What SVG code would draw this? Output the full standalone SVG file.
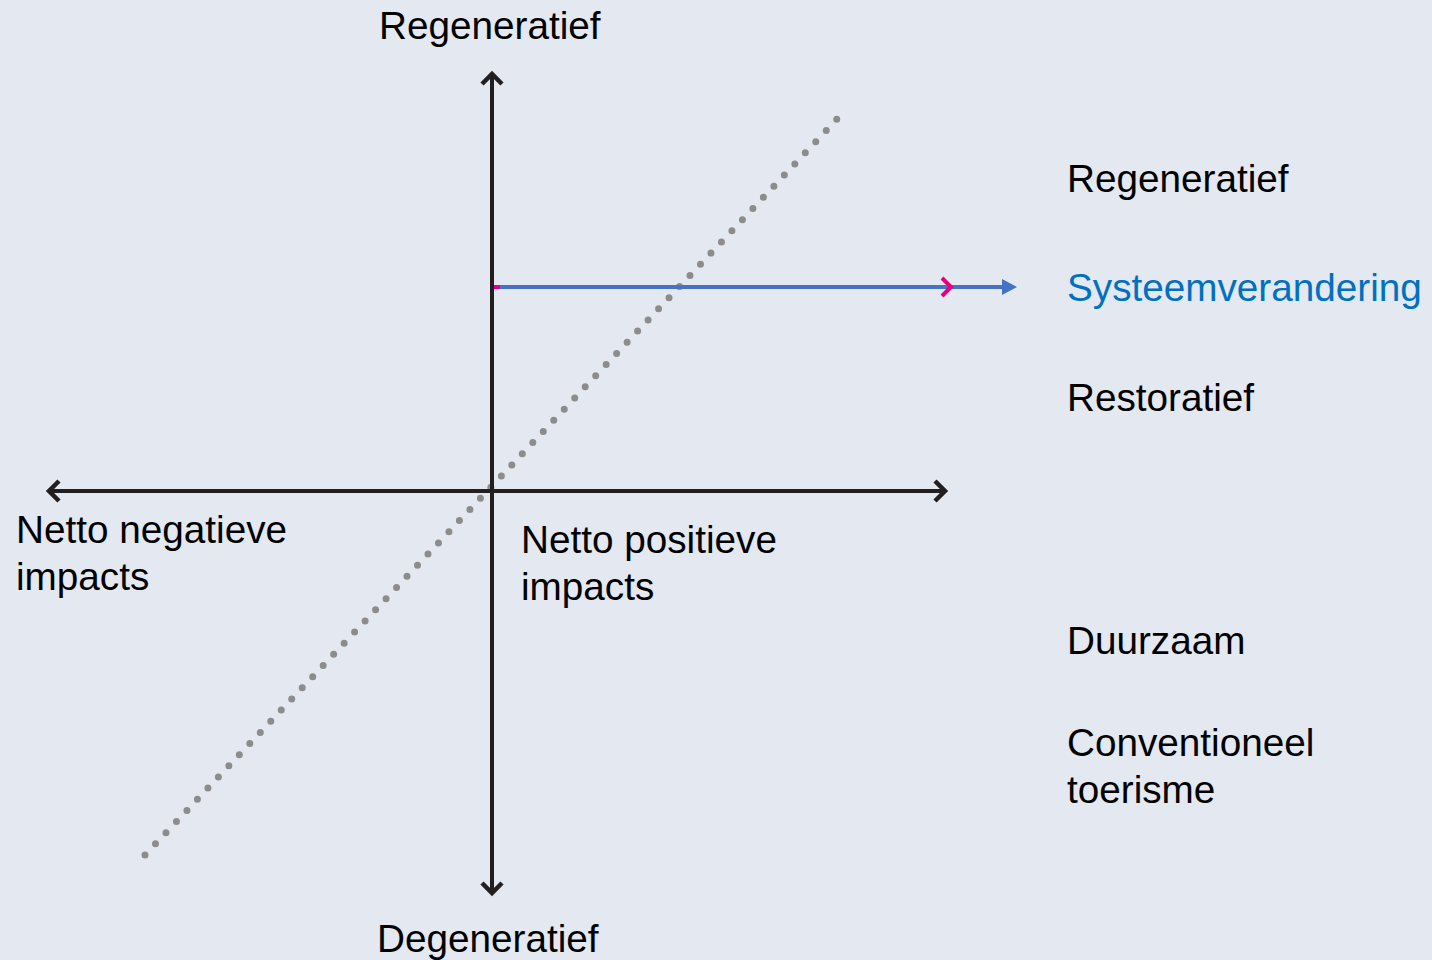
<svg xmlns="http://www.w3.org/2000/svg" width="1432" height="960" viewBox="0 0 1432 960">
<style>
text{font-family:"Liberation Sans",Arial,sans-serif;font-size:38.7px;fill:#000}
.ax{stroke:#231f20;stroke-width:4;fill:none}
.head{stroke:#231f20;stroke-width:4.5;fill:none;stroke-linecap:butt;stroke-linejoin:miter}
</style>
<rect width="1432" height="960" fill="#e3e8f1"/>
<g id="connectors">
<line x1="145" y1="855" x2="838" y2="118" stroke="#8c8c8c" stroke-width="7" stroke-linecap="round" stroke-dasharray="0 15.3"/>
<line class="ax" x1="492" y1="74" x2="492" y2="893"/>
<polyline class="head" points="482,84 492,74 502,84"/>
<polyline class="head" points="482,883 492,893 502,883"/>
<line class="ax" x1="49" y1="491" x2="945" y2="491"/>
<polyline class="head" points="59,481 49,491 59,501"/>
<polyline class="head" points="935,481 945,491 935,501"/>
<line x1="494" y1="287" x2="1004" y2="287" stroke="#4472c4" stroke-width="4"/>
<polygon points="1002,279 1017,287 1002,295" fill="#4472c4"/>
<line x1="494" y1="287" x2="500" y2="287" stroke="#e6007e" stroke-width="4"/>
<polyline points="942,278 951,287 942,296" fill="none" stroke="#e6007e" stroke-width="4"/>
</g>
<g id="axis-labels">
<text x="379" y="39">Regeneratief</text>
<text x="377" y="952">Degeneratief</text>
<text x="16" y="543">Netto negatieve</text>
<text x="16" y="590">impacts</text>
<text x="521" y="553">Netto positieve</text>
<text x="521" y="600">impacts</text>
</g>
<g id="legend">
<text x="1067" y="192">Regeneratief</text>
<text x="1067" y="301" style="fill:#0070c0">Systeemverandering</text>
<text x="1067" y="411">Restoratief</text>
<text x="1067" y="654">Duurzaam</text>
<text x="1067" y="756">Conventioneel</text>
<text x="1067" y="803">toerisme</text>
</g>
</svg>
